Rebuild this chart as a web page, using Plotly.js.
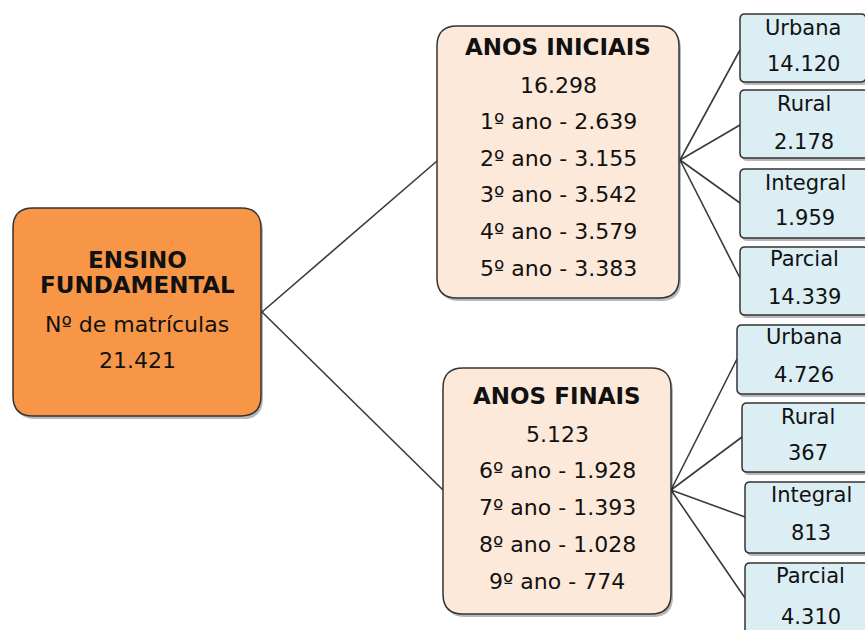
<!DOCTYPE html>
<html>
<head>
<meta charset="utf-8">
<script src="https://cdn.plot.ly/plotly-3.0.1.min.js"></script>
<style>html,body{margin:0;padding:0;background:#fff;}#chart{width:865px;height:630px;}</style>
</head>
<body>
<div id="chart"></div>
<script>
// ---- data ----
const rootTitle = ['ENSINO', 'FUNDAMENTAL'];
const rootSubtitle = 'Nº de matrículas';
const rootTotal = '21.421';
const stageNames = ['ANOS INICIAIS', 'ANOS FINAIS'];
const stageTotals = ['16.298', '5.123'];
const gradeLabels = [
  ['1º ano', '2º ano', '3º ano', '4º ano', '5º ano'],
  ['6º ano', '7º ano', '8º ano', '9º ano']
];
const gradeValues = [
  ['2.639', '3.155', '3.542', '3.579', '3.383'],
  ['1.928', '1.393', '1.028', '774']
];
const splitLabels = ['Urbana', 'Rural', 'Integral', 'Parcial'];
const splitValues = [
  ['14.120', '2.178', '1.959', '14.339'],
  ['4.726', '367', '813', '4.310']
];

// ---- layout geometry (positions, not data) ----
const rootBox = {x0: 13, x1: 261, y0: 208, y1: 416, r: 20, port: [262, 312]};
const stageBoxes = [
  {x0: 437, x1: 679, y0: 26, y1: 298, r: 20, inPort: [437, 161], outPort: [680, 160], titleY: 47, firstY: 85, step: 36.6},
  {x0: 443, x1: 671, y0: 368, y1: 614, r: 20, inPort: [443, 490], outPort: [671, 490], titleY: 396, firstY: 434, step: 36.8}
];
const splitBoxes = [
  [
    {x0: 740, x1: 866, y0: 14, y1: 82, port: [740, 50], ly: 28, vy: 64},
    {x0: 740, x1: 868, y0: 90, y1: 158, port: [740, 125], ly: 104, vy: 142},
    {x0: 740, x1: 870, y0: 169, y1: 238, port: [740, 203], ly: 183, vy: 218},
    {x0: 740, x1: 868, y0: 247, y1: 315, port: [740, 278], ly: 259, vy: 297}
  ],
  [
    {x0: 737, x1: 871, y0: 325, y1: 394, port: [737, 359], ly: 337, vy: 375},
    {x0: 742, x1: 874, y0: 403, y1: 472, port: [742, 437], ly: 417, vy: 453},
    {x0: 745, x1: 877, y0: 482, y1: 553, port: [745, 517], ly: 495, vy: 533},
    {x0: 745, x1: 876, y0: 563, y1: 640, port: [745, 598], ly: 576, vy: 617}
  ]
];
const FONT = 'DejaVu Sans, Verdana, sans-serif';
const TXT = '#111111';
const EDGE = '#333333';

function rrect(b, r) {
  const {x0, x1, y0, y1} = b;
  return `M ${x0 + r},${y0} L ${x1 - r},${y0} Q ${x1},${y0} ${x1},${y0 + r} ` +
         `L ${x1},${y1 - r} Q ${x1},${y1} ${x1 - r},${y1} L ${x0 + r},${y1} ` +
         `Q ${x0},${y1} ${x0},${y1 - r} L ${x0},${y0 + r} Q ${x0},${y0} ${x0 + r},${y0} Z`;
}
function shift(b, dx, dy) {
  return {x0: b.x0 + dx, x1: b.x1 + dx, y0: b.y0 + dy, y1: b.y1 + dy};
}

const shapes = [];
const annotations = [];
function ann(text, x, y, size, bold) {
  annotations.push({
    x: x, y: y, xref: 'x', yref: 'y', text: bold ? '<b>' + text + '</b>' : text,
    showarrow: false, xanchor: 'center', yanchor: 'middle',
    font: {family: FONT, size: size, color: TXT}
  });
}
function line(a, b) {
  shapes.push({type: 'line', xref: 'x', yref: 'y', x0: a[0], y0: a[1], x1: b[0], y1: b[1],
    line: {color: '#3a3a3a', width: 1.6}, layer: 'below'});
}
function box(b, r, fill, shadow) {
  if (shadow) {
    shapes.push({type: 'path', xref: 'x', yref: 'y', path: rrect(shift(b, 2, 3), r),
      fillcolor: 'rgba(0,0,0,0.28)', line: {width: 0}, layer: 'below'});
  }
  shapes.push({type: 'path', xref: 'x', yref: 'y', path: rrect(b, r),
    fillcolor: fill, line: {color: EDGE, width: 1.5}, layer: 'below'});
}

// connectors
stageBoxes.forEach((sb, i) => {
  line(rootBox.port, sb.inPort);
  splitBoxes[i].forEach(bx => line(sb.outPort, bx.port));
});

// root
box(rootBox, rootBox.r, '#F79646', true);
const rcx = (rootBox.x0 + rootBox.x1) / 2;
ann(rootTitle[0], rcx, 260, 23, true);
ann(rootTitle[1], rcx, 285, 23, true);
ann(rootSubtitle, rcx, 324, 22, false);
ann(rootTotal, rcx, 360, 22, false);

// stages
stageBoxes.forEach((sb, i) => {
  box(sb, sb.r, '#FDE9D9', true);
  const cx = (sb.x0 + sb.x1) / 2;
  ann(stageNames[i], cx, sb.titleY, 23, true);
  ann(stageTotals[i], cx, sb.firstY, 22, false);
  gradeLabels[i].forEach((g, k) => {
    ann(g + ' - ' + gradeValues[i][k], cx, sb.firstY + sb.step * (k + 1), 22, false);
  });
});

// splits
splitBoxes.forEach((group, i) => {
  group.forEach((bx, k) => {
    box(bx, 5, '#DBEEF4', true);
    const cx = (bx.x0 + bx.x1) / 2;
    ann(splitLabels[k], cx, bx.ly, 21, false);
    ann(splitValues[i][k], cx, bx.vy, 21, false);
  });
});

const layout = {
  width: 865, height: 630,
  margin: {l: 0, r: 0, t: 0, b: 0, pad: 0},
  paper_bgcolor: '#ffffff', plot_bgcolor: '#ffffff',
  xaxis: {range: [0, 865], visible: false, fixedrange: true},
  yaxis: {range: [630, 0], visible: false, fixedrange: true},
  showlegend: false,
  shapes: shapes,
  annotations: annotations
};
Plotly.newPlot('chart', [{x: [], y: [], type: 'scatter', mode: 'markers', hoverinfo: 'skip'}], layout,
  {staticPlot: true, displayModeBar: false});
</script>
</body>
</html>
